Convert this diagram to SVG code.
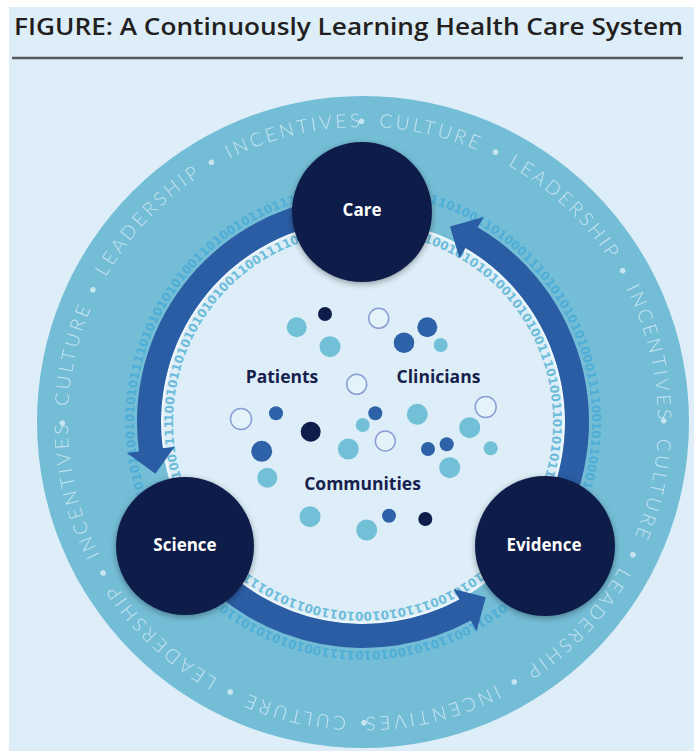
<svg xmlns="http://www.w3.org/2000/svg" width="694" height="751" viewBox="0 0 694 751">
<defs>
<style>
.ttl{font-family:"Open Sans","Liberation Sans",sans-serif;font-weight:600;font-size:23px;fill:#231f20}
.ring{font-family:Lato,"Open Sans","Liberation Sans",sans-serif;font-weight:300;font-size:19px;letter-spacing:3.2px;fill:#d3ebf4;opacity:.88}
.bin{font-family:"DejaVu Sans","Liberation Sans",sans-serif;font-weight:700;font-size:12px}
.bo{fill:#4eaed6}
.bi{fill:#6cbcda}
.node{fill:#0f1d4a}
.nl{font-family:"Open Sans","Liberation Sans",sans-serif;font-weight:700;font-size:17px;fill:#ffffff;text-anchor:middle}
.cl{font-family:"Open Sans","Liberation Sans",sans-serif;font-weight:700;font-size:17.5px;fill:#17214d;text-anchor:middle}
.arrow{fill:#2b5da4}
.lb{fill:#72c0d8}
.mb{fill:#2e62a8}
.nv{fill:#0f1d4a}
.ol{fill:#e4f2fa;stroke:#8a9ed4;stroke-width:1.5}
</style>
<path id="ringPath" d="M 68,422 A 295 295 0 1 1 658,422 A 295 295 0 1 1 68,422 A 295 295 0 1 1 658,422 A 295 295 0 1 1 68,422"/>
<path id="binOut" d="M 134,422 A 229 229 0 1 1 592,422 A 229 229 0 1 1 134,422"/>
<path id="binIn" d="M 173,422 A 190 190 0 1 1 553,422 A 190 190 0 1 1 173,422"/>
<filter id="sh" x="-30%" y="-30%" width="160%" height="160%">
<feDropShadow dx="0" dy="2" stdDeviation="3" flood-color="#000000" flood-opacity="0.35"/>
</filter>
</defs>

<rect x="9" y="7" width="685" height="744" fill="#ddeef8"/>
<text class="ttl" x="14" y="35" textLength="669" lengthAdjust="spacingAndGlyphs">FIGURE: A Continuously Learning Health Care System</text>
<line x1="12" y1="58" x2="683" y2="58" stroke="#58595b" stroke-width="2.5"/>

<g id="background-rings">
<circle cx="363" cy="422" r="326" fill="#74bdd6"/>
<circle cx="363" cy="422" r="202" fill="#ddeef8"/>
<circle cx="363" cy="422" r="201" fill="none" stroke="#ffffff" stroke-width="2" opacity="0.6"/>
</g>

<g id="ring-words" class="ring" text-anchor="middle">
<text><textPath href="#ringPath" startOffset="463.38">•</textPath></text>
<text><textPath href="#ringPath" startOffset="531.35">CULTURE</textPath></text>
<text><textPath href="#ringPath" startOffset="599.31">•</textPath></text>
<text><textPath href="#ringPath" startOffset="685.81">LEADERSHIP</textPath></text>
<text><textPath href="#ringPath" startOffset="772.31">•</textPath></text>
<text><textPath href="#ringPath" startOffset="857.26">INCENTIVES</textPath></text>
<text><textPath href="#ringPath" startOffset="926.77">•</textPath></text>
<text><textPath href="#ringPath" startOffset="994.73">CULTURE</textPath></text>
<text><textPath href="#ringPath" startOffset="1062.70">•</textPath></text>
<text><textPath href="#ringPath" startOffset="1149.19">LEADERSHIP</textPath></text>
<text><textPath href="#ringPath" startOffset="1235.69">•</textPath></text>
<text><textPath href="#ringPath" startOffset="1320.65">INCENTIVES</textPath></text>
<text><textPath href="#ringPath" startOffset="1390.15">•</textPath></text>
<text><textPath href="#ringPath" startOffset="1458.12">CULTURE</textPath></text>
<text><textPath href="#ringPath" startOffset="1526.08">•</textPath></text>
<text><textPath href="#ringPath" startOffset="1612.58">LEADERSHIP</textPath></text>
<text><textPath href="#ringPath" startOffset="1699.08">•</textPath></text>
<text><textPath href="#ringPath" startOffset="1784.03">INCENTIVES</textPath></text>
<text><textPath href="#ringPath" startOffset="1853.54">•</textPath></text>
<text><textPath href="#ringPath" startOffset="67.96">CULTURE</textPath></text>
<text><textPath href="#ringPath" startOffset="135.93">•</textPath></text>
<text><textPath href="#ringPath" startOffset="222.42">LEADERSHIP</textPath></text>
<text><textPath href="#ringPath" startOffset="308.92">•</textPath></text>
<text><textPath href="#ringPath" startOffset="393.88">INCENTIVES</textPath></text>
</g>

<g id="binary" class="bin">
<text class="bo"><textPath href="#binOut">0101011110101010101001101001011011110001100011000111101001101000111010101010100011110010110001101010101111000110101100110101001010111100101010101101010100111000101101011001010101111001010101001101010010111010110100101011110001101001101</textPath></text>
<text class="bi"><textPath href="#binIn">1001011010101010100110011110110111000110001100101010100101010011101001101010111011000110011010101001110101001011001101011101001010101001100111101010011001010110100101010110011010100101101011110011010101001101001010101101</textPath></text>
</g>

<g id="connectors">
<path id="arrow-care-science" class="arrow" d="M 331.55,198.20 A 226 226 0 0 0 138.93,451.50 L 127.04,453.07 L 155.36,473.77 L 174.63,446.80 L 162.73,448.37 A 202 202 0 0 1 334.89,221.97 Z"/>
<path id="arrow-science-evidence" class="arrow" d="M 189.87,567.27 A 226 226 0 0 0 470.84,620.61 L 476.56,631.16 L 485.75,597.30 L 453.66,588.98 L 459.39,599.52 A 202 202 0 0 1 208.26,551.84 Z"/>
<path id="arrow-evidence-care" class="arrow" d="M 536.13,567.27 A 226 226 0 0 0 477.70,227.27 L 483.79,216.93 L 450.04,226.50 L 459.43,258.29 L 465.52,247.95 A 202 202 0 0 1 517.74,551.84 Z"/>
</g>

<g id="dots">
<circle class="lb" cx="296.7" cy="327.3" r="10"/>
<circle class="nv" cx="325" cy="314" r="7"/>
<circle class="lb" cx="330" cy="346.7" r="10.5"/>
<circle class="ol" cx="378.7" cy="318.3" r="10"/>
<circle class="mb" cx="427.3" cy="327.3" r="10"/>
<circle class="mb" cx="404" cy="342.7" r="10.3"/>
<circle class="lb" cx="440.7" cy="345" r="7"/>
<circle class="ol" cx="356.7" cy="384.3" r="10"/>
<circle class="ol" cx="241" cy="419" r="10.5"/>
<circle class="mb" cx="276" cy="413.3" r="7"/>
<circle class="nv" cx="310.7" cy="431.7" r="10"/>
<circle class="mb" cx="261.7" cy="451.3" r="10.5"/>
<circle class="lb" cx="267.3" cy="477.7" r="10"/>
<circle class="lb" cx="362.7" cy="425" r="7"/>
<circle class="mb" cx="375.3" cy="413.3" r="7"/>
<circle class="lb" cx="348.3" cy="449" r="10.5"/>
<circle class="ol" cx="385.3" cy="441" r="10"/>
<circle class="lb" cx="417.3" cy="414.3" r="10.5"/>
<circle class="ol" cx="485.7" cy="407" r="10.5"/>
<circle class="lb" cx="469.7" cy="427.7" r="10.5"/>
<circle class="mb" cx="428" cy="449" r="7"/>
<circle class="mb" cx="446.7" cy="444.3" r="7"/>
<circle class="lb" cx="490.7" cy="448.3" r="7"/>
<circle class="lb" cx="449.7" cy="467.7" r="10.5"/>
<circle class="lb" cx="310" cy="516.7" r="10.5"/>
<circle class="mb" cx="389" cy="515.7" r="7"/>
<circle class="nv" cx="425.3" cy="519" r="7"/>
<circle class="lb" cx="366.7" cy="530" r="10.5"/>
</g>

<g id="labels">
<text class="cl" x="282" y="383">Patients</text>
<text class="cl" x="438.5" y="383">Clinicians</text>
<text class="cl" x="362.5" y="489.5">Communities</text>
</g>

<g id="node-care">
<circle class="node" cx="362" cy="212" r="70" filter="url(#sh)"/>
<text class="nl" x="362" y="216">Care</text>
</g>
<g id="node-science">
<circle class="node" cx="185" cy="546" r="69" filter="url(#sh)"/>
<text class="nl" x="185" y="551">Science</text>
</g>
<g id="node-evidence">
<circle class="node" cx="545" cy="546" r="70" filter="url(#sh)"/>
<text class="nl" x="544" y="551">Evidence</text>
</g>
</svg>
